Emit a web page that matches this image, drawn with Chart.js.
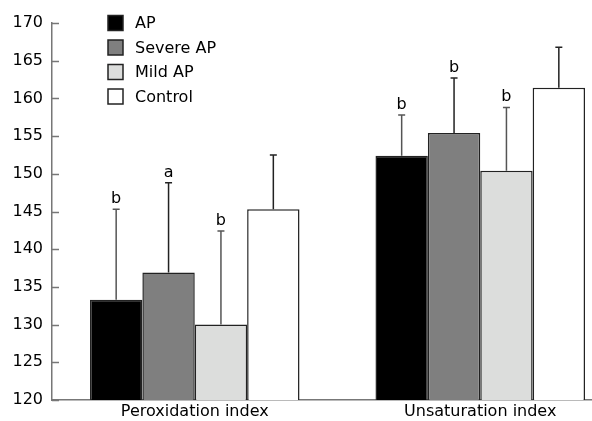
<!DOCTYPE html>
<html>
<head>
<meta charset="utf-8">
<script src="https://cdn.jsdelivr.net/npm/chart.js@4/dist/chart.umd.min.js"></script>
<style>
  html, body { margin: 0; padding: 0; background: #fff; overflow: hidden; width: 592px; height: 421px; }
  canvas { display: block; }
</style>
</head>
<body>
<canvas id="chart" width="630" height="421"></canvas>
<script>
// --- DATA ---
const categories = ['Peroxidation index', 'Unsaturation index'];
const groupNames = ['AP', 'Severe AP', 'Mild AP', 'Control'];

const apValues      = [133.3, 152.4];
const severeValues  = [136.9, 155.4];
const mildValues    = [130.0, 150.4];
const controlValues = [145.3, 161.4];

// obere ende af fejlstreger (middel + SD)
const apErrTop      = [145.3, 157.8];
const severeErrTop  = [148.8, 162.7];
const mildErrTop    = [142.4, 158.8];
const controlErrTop = [152.5, 166.8];

// signifikans-bogstaver
const apSig      = ['b', 'b'];
const severeSig  = ['a', 'b'];
const mildSig    = ['b', 'b'];
const controlSig = ['', ''];

const yTicks = [120, 125, 130, 135, 140, 145, 150, 155, 160, 165, 170];

const FONT = '"DejaVu Sans", Verdana, sans-serif';

// --- PLUGINS ---

// fejlstreger + bogstaver
const errorBarPlugin = {
    id: 'errorBars',
    afterDatasetsDraw(chart) {
        const ctx = chart.ctx;
        const y = chart.scales.y;
        chart.data.datasets.forEach((ds, i) => {
            const meta = chart.getDatasetMeta(i);
            meta.data.forEach((bar, j) => {
                const top = y.getPixelForValue(ds.errTop[j]);
                ctx.save();
                ctx.strokeStyle = ds.errColor;
                ctx.lineWidth = 1.5;
                ctx.beginPath();
                ctx.moveTo(bar.x, bar.y);
                ctx.lineTo(bar.x, top);
                ctx.moveTo(bar.x - 3.5, top);
                ctx.lineTo(bar.x + 3.5, top);
                ctx.stroke();
                if (ds.sig[j]) {
                    ctx.fillStyle = '#000';
                    ctx.font = '16px ' + FONT;
                    ctx.textAlign = 'center';
                    ctx.textBaseline = 'alphabetic';
                    ctx.fillText(ds.sig[j], bar.x, top - 6);
                }
                ctx.restore();
            });
        });
    }
};

// små tick-streger der peger ind i plottet
const innerTicksPlugin = {
    id: 'innerTicks',
    afterDraw(chart) {
        const ctx = chart.ctx;
        const y = chart.scales.y;
        const left = chart.chartArea.left;
        ctx.save();
        ctx.strokeStyle = '#777';
        ctx.lineWidth = 1.5;
        y.ticks.forEach(t => {
            const py = Math.round(y.getPixelForValue(t.value)) + 0.5;
            ctx.beginPath();
            ctx.moveTo(left, py);
            ctx.lineTo(left + 7, py);
            ctx.stroke();
        });
        ctx.restore();
    }
};

// legende inde i plottet, lodret
const boxLegendPlugin = {
    id: 'boxLegend',
    afterDraw(chart) {
        const ctx = chart.ctx;
        const x0 = 108, y0 = 23, rowH = 24.5, box = 15;
        ctx.save();
        chart.data.datasets.forEach((ds, i) => {
            const cy = y0 + i * rowH;
            ctx.fillStyle = ds.backgroundColor;
            ctx.fillRect(x0, cy - box / 2, box, box);
            ctx.strokeStyle = '#222';
            ctx.lineWidth = 1.5;
            ctx.strokeRect(x0, cy - box / 2, box, box);
            ctx.fillStyle = '#000';
            ctx.font = '16px ' + FONT;
            ctx.textAlign = 'left';
            ctx.textBaseline = 'middle';
            ctx.fillText(ds.label, 135, cy + 1);
        });
        ctx.restore();
    }
};

// --- CHART ---
function makeDataset(label, values, errTop, sig, color, errColor) {
    return {
        label: label,
        data: values,
        errTop: errTop,
        sig: sig,
        errColor: errColor,
        backgroundColor: color,
        borderColor: '#222',
        borderWidth: 1.5,
        categoryPercentage: 0.734,
        barPercentage: 1.0
    };
}

const ctx = document.getElementById('chart').getContext('2d');
new Chart(ctx, {
    type: 'bar',
    data: {
        labels: categories,
        datasets: [
            makeDataset(groupNames[0], apValues, apErrTop, apSig, '#000000', '#555'),
            makeDataset(groupNames[1], severeValues, severeErrTop, severeSig, '#7f7f7f', '#222'),
            makeDataset(groupNames[2], mildValues, mildErrTop, mildSig, '#dcdddc', '#555'),
            makeDataset(groupNames[3], controlValues, controlErrTop, controlSig, '#ffffff', '#222')
        ]
    },
    options: {
        responsive: false,
        animation: false,
        devicePixelRatio: 1,
        layout: { padding: { top: 23, right: 7, left: 0, bottom: 0 } },
        plugins: {
            legend: { display: false },
            tooltip: { enabled: false }
        },
        scales: {
            x: {
                grid: { display: false, drawTicks: false },
                border: { color: '#777', width: 1.5 },
                ticks: { color: '#000', font: { family: FONT, size: 16 }, padding: 2 },
                afterFit(scale) { scale.height = 21; }
            },
            y: {
                min: 120,
                max: 170,
                afterBuildTicks(scale) { scale.ticks = yTicks.map(v => ({ value: v })); },
                grid: { drawOnChartArea: false, drawTicks: false },
                border: { color: '#777', width: 1.5 },
                ticks: { color: '#000', font: { family: FONT, size: 16 }, padding: 9 },
                afterFit(scale) { scale.width = 52; }
            }
        }
    },
    plugins: [errorBarPlugin, innerTicksPlugin, boxLegendPlugin]
});
</script>
</body>
</html>
